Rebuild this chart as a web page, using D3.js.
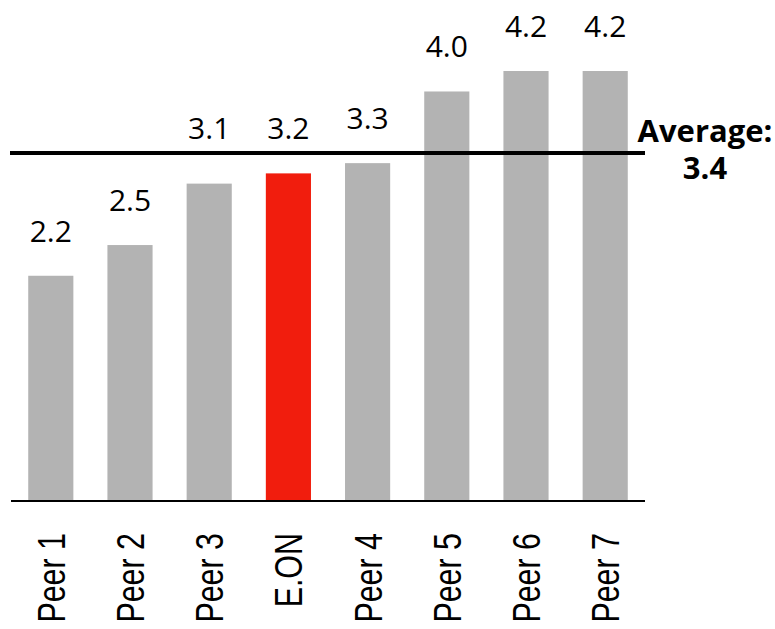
<!DOCTYPE html>
<html>
<head>
<meta charset="utf-8">
<script src="https://cdn.jsdelivr.net/npm/d3@7"></script>
<style>
    html, body { margin: 0; padding: 0; background: #fff; }
    svg { display: block; }
</style>
</head>
<body>
<div id="chart"></div>
<script>
// values
const categories = ["Peer 1", "Peer 2", "Peer 3", "E.ON", "Peer 4", "Peer 5", "Peer 6", "Peer 7"];
const scores = [2.2, 2.5, 3.1, 3.2, 3.3, 4.0, 4.2, 4.2];
const highlight = "E.ON";
const averageValue = 3.4;

const width = 775, height = 629;
const baseY = 501;

const svg = d3.select("#chart")
    .append("svg")
    .attr("width", width)
    .attr("height", height);

const x = d3.scaleBand()
    .domain(categories)
    .range([11, 645])
    .paddingInner(0.43)
    .paddingOuter(0.2175);

const y = d3.scaleLinear()
    .domain([0, 4.2])
    .range([baseY, 71]);

const avgY = y(averageValue);

// bars
svg.append("g").selectAll("rect")
    .data(categories)
    .enter()
    .append("rect")
    .attr("x", d => x(d))
    .attr("y", (d, i) => y(scores[i]))
    .attr("width", x.bandwidth())
    .attr("height", (d, i) => baseY - y(scores[i]))
    .attr("fill", d => d == highlight ? "#f11d0d" : "#b3b3b3");

// baseline
svg.append("line")
    .attr("x1", 11).attr("x2", 645)
    .attr("y1", baseY).attr("y2", baseY)
    .attr("stroke", "#000")
    .attr("stroke-width", 1.8);

// average line
svg.append("line")
    .attr("x1", 10).attr("x2", 645)
    .attr("y1", avgY).attr("y2", avgY)
    .attr("stroke", "#000")
    .attr("stroke-width", 4);

// value labels, lifted above the average line when they would cross it
svg.append("g").selectAll("text")
    .data(categories)
    .enter()
    .append("text")
    .attr("x", d => x(d) + x.bandwidth() / 2)
    .attr("y", (d, i) => {
        let top = y(scores[i]) - 34;
        if (top > avgY - 14 && top - 24 < avgY + 2) top = avgY - 14;
        return top;
    })
    .attr("text-anchor", "middle")
    .style("font-family", "'Open Sans', sans-serif")
    .style("font-size", "30px")
    .attr("fill", "#000")
    .text((d, i) => d3.format(".1f")(scores[i]));

// category labels, rotated
svg.append("g").selectAll("text")
    .data(categories)
    .enter()
    .append("text")
    .attr("transform", d => "translate(" + (x(d) + x.bandwidth() / 2) + "," + 533 + ") rotate(-90) scale(0.78,1)")
    .attr("dy", "0.36em")
    .attr("text-anchor", "end")
    .style("font-family", "'Liberation Sans', Arial, sans-serif")
    .style("font-size", "39px")
    .attr("fill", "#000")
    .text(d => d);

// average annotation
const avgLabel = svg.append("text")
    .style("font-family", "'Open Sans', sans-serif")
    .style("font-weight", "bold")
    .style("font-size", "31px")
    .attr("text-anchor", "middle")
    .attr("fill", "#000");

avgLabel.append("tspan")
    .attr("x", 705)
    .attr("y", avgY - 11)
    .text("Average:");

avgLabel.append("tspan")
    .attr("x", 705)
    .attr("y", avgY + 26)
    .text(d3.format(".1f")(averageValue));
</script>
</body>
</html>
